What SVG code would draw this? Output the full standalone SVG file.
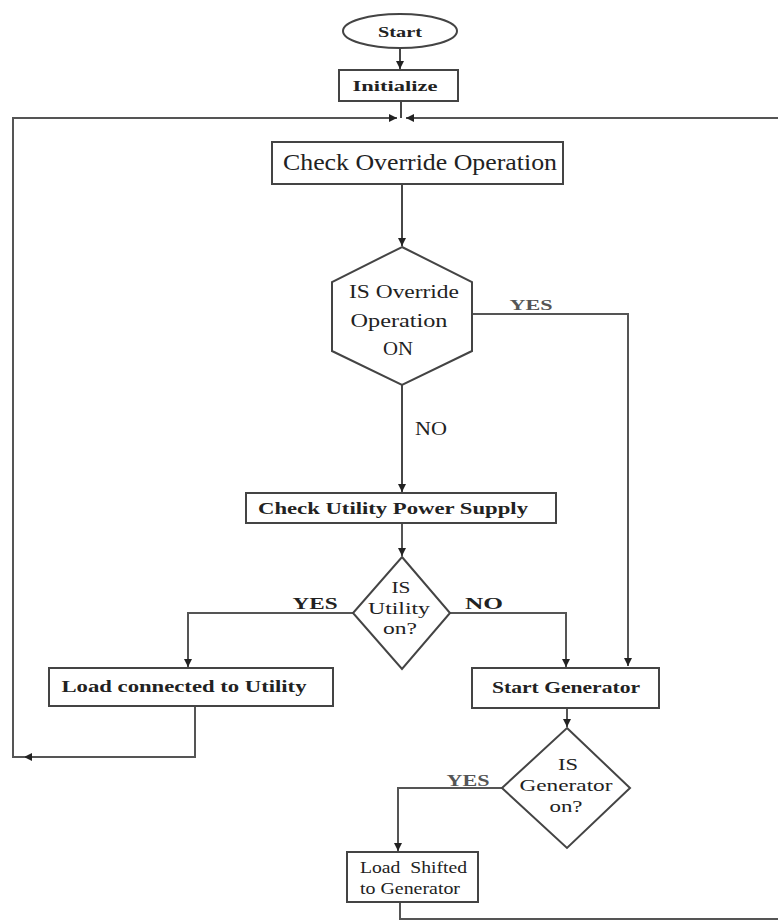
<svg xmlns="http://www.w3.org/2000/svg" width="778" height="924" viewBox="0 0 778 924">
<defs>
<marker id="arr" markerUnits="userSpaceOnUse" markerWidth="9" markerHeight="8" refX="8" refY="4" orient="auto">
<path d="M0,0 L8,4 L0,8 z" fill="#222"/>
</marker>
<style>
.box{fill:#fff;stroke:#444;stroke-width:2}
.ln{fill:none;stroke:#555;stroke-width:2}
.lk{fill:none;stroke:#333;stroke-width:1.8}
text{font-family:"Liberation Serif","Times New Roman",serif;fill:#222;text-anchor:middle}
.b{font-weight:bold}
.lab{font-weight:bold;fill:#555}
</style>
</defs>
<rect width="778" height="924" fill="#fff"/>
<g id="connectors">
<path class="lk" d="M400,48 V69" marker-end="url(#arr)"/>
<path class="lk" d="M401,101 V118"/>
<path class="ln" d="M195,706 V757 H24" marker-end="url(#arr)"/>
<path class="ln" d="M25,757 H13 V118 H397" marker-end="url(#arr)"/>
<path class="ln" d="M778,118 H406" marker-end="url(#arr)"/>
<path class="lk" d="M402,185 V246" marker-end="url(#arr)"/>
<path class="ln" d="M472,314 H628 V666" marker-end="url(#arr)"/>
<path class="lk" d="M402,384 V492" marker-end="url(#arr)"/>
<path class="ln" d="M402,523 V556" marker-end="url(#arr)"/>
<path class="ln" d="M353,613 H188 V667" marker-end="url(#arr)"/>
<path class="ln" d="M450,613 H566 V667" marker-end="url(#arr)"/>
<path class="ln" d="M567,708 V727" marker-end="url(#arr)"/>
<path class="ln" d="M502,788 H398 V851" marker-end="url(#arr)"/>
<path class="ln" d="M400,902 V919 H778"/>
<text class="lab" x="531" y="310" font-size="15" textLength="43" lengthAdjust="spacingAndGlyphs">YES</text>
<text x="431" y="435" font-size="18" textLength="32" lengthAdjust="spacingAndGlyphs">NO</text>
<text class="b" x="315" y="609" font-size="16" textLength="45" lengthAdjust="spacingAndGlyphs">YES</text>
<text class="b" x="484" y="609" font-size="16" textLength="38" lengthAdjust="spacingAndGlyphs">NO</text>
<text class="lab" x="468" y="786" font-size="16" textLength="43" lengthAdjust="spacingAndGlyphs">YES</text>
</g>
<g id="start">
<ellipse class="box" cx="400" cy="31" rx="57" ry="17"/>
<text class="b" x="400" y="37" font-size="15" textLength="44" lengthAdjust="spacingAndGlyphs">Start</text>
</g>
<g id="initialize">
<rect class="box" x="339" y="70" width="119" height="31"/>
<text class="b" x="395" y="91" font-size="15" textLength="85" lengthAdjust="spacingAndGlyphs">Initialize</text>
</g>
<g id="check-override">
<rect class="box" x="272" y="142" width="291" height="42"/>
<text x="420" y="170" font-size="23" textLength="274" lengthAdjust="spacingAndGlyphs">Check Override Operation</text>
</g>
<g id="is-override">
<polygon class="box" points="402,247 472,282 472,351 402,385 332,351 332,282"/>
<text x="404" y="298" font-size="19" textLength="110" lengthAdjust="spacingAndGlyphs">IS Override</text>
<text x="399" y="327" font-size="19" textLength="97" lengthAdjust="spacingAndGlyphs">Operation</text>
<text x="398" y="355" font-size="19" textLength="30" lengthAdjust="spacingAndGlyphs">ON</text>
</g>
<g id="check-utility">
<rect class="box" x="246" y="493" width="310" height="30"/>
<text class="b" x="393" y="514" font-size="17" textLength="270" lengthAdjust="spacingAndGlyphs">Check Utility Power Supply</text>
</g>
<g id="is-utility">
<polygon class="box" points="402,557 450,613 402,669 353,613"/>
<text x="401" y="593" font-size="17" textLength="19" lengthAdjust="spacingAndGlyphs">IS</text>
<text x="399" y="614" font-size="17" textLength="62" lengthAdjust="spacingAndGlyphs">Utility</text>
<text x="400" y="634" font-size="17" textLength="34" lengthAdjust="spacingAndGlyphs">on?</text>
</g>
<g id="load-utility">
<rect class="box" x="49" y="668" width="284" height="38"/>
<text class="b" x="184" y="692" font-size="17" textLength="245" lengthAdjust="spacingAndGlyphs">Load connected to Utility</text>
</g>
<g id="start-generator">
<rect class="box" x="472" y="668" width="187" height="40"/>
<text class="b" x="566" y="693" font-size="16" textLength="148" lengthAdjust="spacingAndGlyphs">Start Generator</text>
</g>
<g id="is-generator">
<polygon class="box" points="567,728 630,788 567,848 502,788"/>
<text x="568" y="770" font-size="17" textLength="20" lengthAdjust="spacingAndGlyphs">IS</text>
<text x="566" y="791" font-size="17" textLength="93" lengthAdjust="spacingAndGlyphs">Generator</text>
<text x="566" y="812" font-size="17" textLength="33" lengthAdjust="spacingAndGlyphs">on?</text>
</g>
<g id="load-generator">
<rect class="box" x="347" y="852" width="131" height="50"/>
<text x="360" y="873" font-size="17" style="text-anchor:start" textLength="107" lengthAdjust="spacingAndGlyphs" xml:space="preserve">Load  Shifted</text>
<text x="360" y="894" font-size="17" style="text-anchor:start" textLength="100" lengthAdjust="spacingAndGlyphs">to Generator</text>
</g>
</svg>
